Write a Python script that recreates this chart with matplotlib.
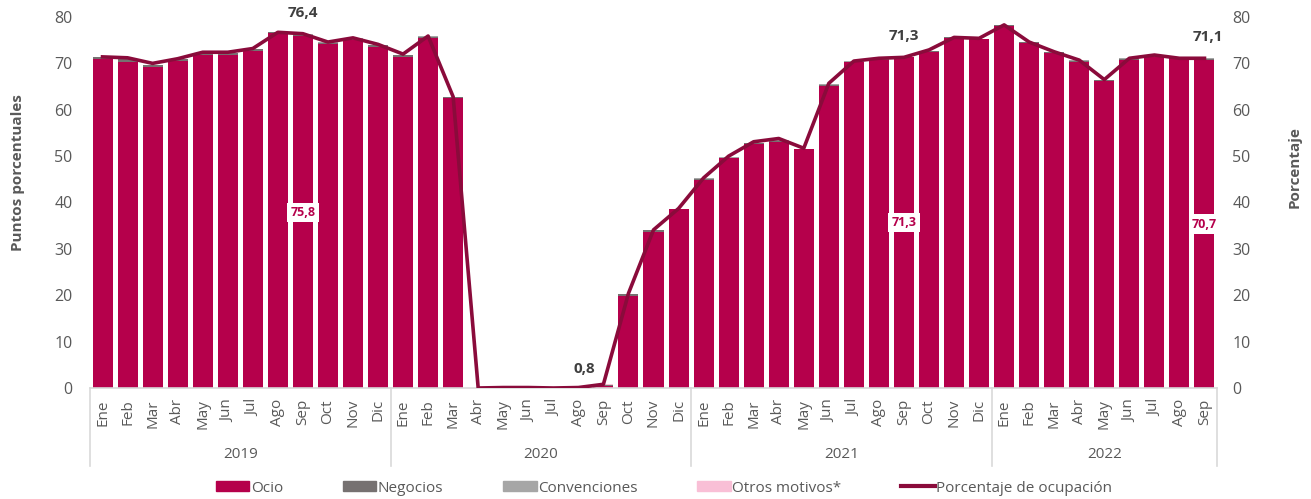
import matplotlib
matplotlib.use("Agg")
import matplotlib.pyplot as plt
import matplotlib.transforms as mtrans
from matplotlib.lines import Line2D
from matplotlib.patches import Patch
import numpy as np

plt.rcParams['font.family'] = ['Open Sans', 'DejaVu Sans']

# months of each year shown
meses = ["Ene", "Feb", "Mar", "Abr", "May", "Jun", "Jul", "Ago", "Sep", "Oct", "Nov", "Dic"]
anios = ["2019", "2020", "2021", "2022"]
meses_por_anio = [12, 12, 12, 9]
etiquetas = meses * 3 + meses[:9]

# puntos porcentuales por motivo
ocio = [70.9, 70.4, 69.2, 70.6, 71.9, 71.9, 72.7, 76.5, 75.8, 74.2, 75.0, 73.6,
        71.4, 75.4, 62.5, 0.0, 0.1, 0.1, 0.0, 0.1, 0.5, 19.9, 33.7, 38.6,
        44.9, 49.5, 52.6, 53.1, 51.5, 65.2, 70.2, 70.7, 71.3, 72.4, 75.4, 75.2,
        78.1, 74.4, 72.2, 70.4, 66.2, 70.7, 71.4, 71.1, 70.7]
negocios = [0.4, 0.5, 0.4, 0.3, 0.3, 0.3, 0.3, 0.2, 0.4, 0.3, 0.3, 0.3,
            0.3, 0.3, 0.2, 0.0, 0.0, 0.0, 0.0, 0.0, 0.1, 0.3, 0.3, 0.1,
            0.2, 0.2, 0.2, 0.2, 0.1, 0.2, 0.2, 0.2, 0.1, 0.2, 0.2, 0.1,
            0.1, 0.2, 0.2, 0.2, 0.2, 0.3, 0.2, 0.2, 0.3]
convenciones = [0.1, 0.1, 0.1, 0.1, 0.1, 0.1, 0.1, 0.0, 0.1, 0.1, 0.1, 0.1,
                0.1, 0.1, 0.1, 0.0, 0.0, 0.0, 0.0, 0.0, 0.0, 0.1, 0.1, 0.0,
                0.1, 0.1, 0.1, 0.1, 0.0, 0.1, 0.1, 0.1, 0.0, 0.1, 0.0, 0.0,
                0.0, 0.0, 0.1, 0.1, 0.1, 0.1, 0.1, 0.1, 0.1]
otros = [0.0, 0.0, 0.0, 0.0, 0.0, 0.0, 0.0, 0.0, 0.0, 0.0, 0.0, 0.0,
         0.0, 0.0, 0.0, 0.0, 0.0, 0.0, 0.0, 0.0, 0.2, 0.0, 0.0, 0.0,
         0.0, 0.0, 0.0, 0.0, 0.0, 0.0, 0.0, 0.0, 0.0, 0.0, 0.0, 0.0,
         0.0, 0.0, 0.0, 0.0, 0.0, 0.0, 0.0, 0.0, 0.0]
# porcentaje de ocupacion
ocupacion = [71.4, 71.2, 70.0, 71.0, 72.4, 72.4, 73.2, 76.7, 76.4, 74.6, 75.5, 74.1,
             72.0, 75.9, 62.8, 0.0, 0.1, 0.1, 0.0, 0.1, 0.8, 20.4, 34.1, 38.7,
             45.3, 50.0, 53.1, 53.8, 51.7, 65.7, 70.5, 71.1, 71.3, 72.9, 75.6, 75.4,
             78.3, 74.6, 72.5, 70.7, 66.5, 71.1, 71.8, 71.1, 71.1]

c_ocio = "#B5004B"
c_neg = "#767171"
c_conv = "#A6A6A6"
c_otros = "#F9BFD6"
c_linea = "#8A0B3B"
gris = "#595959"

x = np.arange(len(ocio))
fig = plt.figure(figsize=(13.11, 4.99), dpi=100)
ax = fig.add_axes([90/1311, 1-388/499, (1217-90)/1311, (388-17)/499])

b1 = np.array(ocio)
b2 = b1 + np.array(negocios)
b3 = b2 + np.array(convenciones)
w = 0.8
ax.bar(x, ocio, width=w, color=c_ocio, zorder=2)
ax.bar(x, negocios, bottom=b1, width=w, color=c_neg, zorder=2)
ax.bar(x, convenciones, bottom=b2, width=w, color=c_conv, zorder=2)
ax.bar(x, otros, bottom=b3, width=w, color=c_otros, zorder=2)

ax.set_xlim(-0.5, len(x) - 0.5)
ax.set_ylim(0, 80)
ax.set_yticks(range(0, 81, 10))
ax.set_xticks(x)
ax.set_xticklabels(etiquetas, rotation=90)
ax.tick_params(axis='x', length=0, pad=8, labelsize=11, labelcolor=gris)
ax.tick_params(axis='y', length=0, pad=12.5, labelsize=11.5, labelcolor=gris)
for s in ["top", "right", "left"]:
    ax.spines[s].set_visible(False)
ax.spines["bottom"].set_color("#D9D9D9")
ax.spines["bottom"].set_linewidth(1.2)
ax.set_ylabel("Puntos porcentuales", fontsize=11, fontweight="bold", color=gris, labelpad=21)
ax.yaxis.label.set_y(0.58)

ax2 = ax.twinx()
ax2.plot(x, ocupacion, color=c_linea, lw=2.6, zorder=3, solid_joinstyle="round")
ax2.set_ylim(0, 80)
ax2.set_yticks(range(0, 81, 10))
ax2.tick_params(axis='y', length=0, pad=11, labelsize=11.5, labelcolor=gris)
for s in ["top", "right", "left", "bottom"]:
    ax2.spines[s].set_visible(False)
ax2.set_ylabel("Porcentaje", fontsize=11, fontweight="bold", color=gris, labelpad=27)
ax2.yaxis.label.set_y(0.596)

# year groups below the month labels
tr = mtrans.blended_transform_factory(ax.transData, ax.transAxes)
inicio = -0.5
for anio, n in zip(anios, meses_por_anio):
    ax.add_line(Line2D([inicio, inicio], [0, -0.21], transform=tr, color="#D9D9D9",
                       lw=1.2, clip_on=False))
    ax.text(inicio + n / 2, -0.18, anio, transform=tr, ha="center", va="center",
            fontsize=11, color=gris)
    inicio += n
ax.add_line(Line2D([inicio, inicio], [0, -0.21], transform=tr, color="#D9D9D9",
                   lw=1.2, clip_on=False))

# line labels
for i, txt, dx in [(8, "76,4", 0), (32, "71,3", 0), (44, "71,1", 0.1)]:
    ax2.annotate(txt, (i, ocupacion[i]), xytext=(dx * 25, 10), textcoords="offset points",
                 ha="center", va="bottom", fontsize=11, fontweight="bold", color="#404040")
ax2.annotate("0,8", (20, ocupacion[20]), xytext=(-14, 6), textcoords="offset points",
             ha="center", va="bottom", fontsize=11, fontweight="bold", color="#404040")

# bar labels
for i, txt in [(8, "75,8"), (32, "71,3"), (44, "70,7")]:
    ax.text(i, ocio[i] / 2, txt, ha="center", va="center", fontsize=9, fontweight="bold",
            color=c_ocio, zorder=4,
            bbox=dict(boxstyle="square,pad=0.25", fc="white", ec="none"))

handles = [Patch(color=c_ocio), Patch(color=c_neg), Patch(color=c_conv), Patch(color=c_otros),
           Line2D([], [], color=c_linea, lw=3)]
names = ["Ocio", "Negocios", "Convenciones", "Otros motivos*", "Porcentaje de ocupación"]
leg = fig.legend(handles, names, loc="center", bbox_to_anchor=(664/1311, 1-488/499), ncol=5,
                 frameon=False, fontsize=11, handlelength=2.2, handleheight=0.6,
                 handletextpad=0.1, columnspacing=3.9)
for t in leg.get_texts():
    t.set_color(gris)

fig.savefig("out.png", dpi=100)
